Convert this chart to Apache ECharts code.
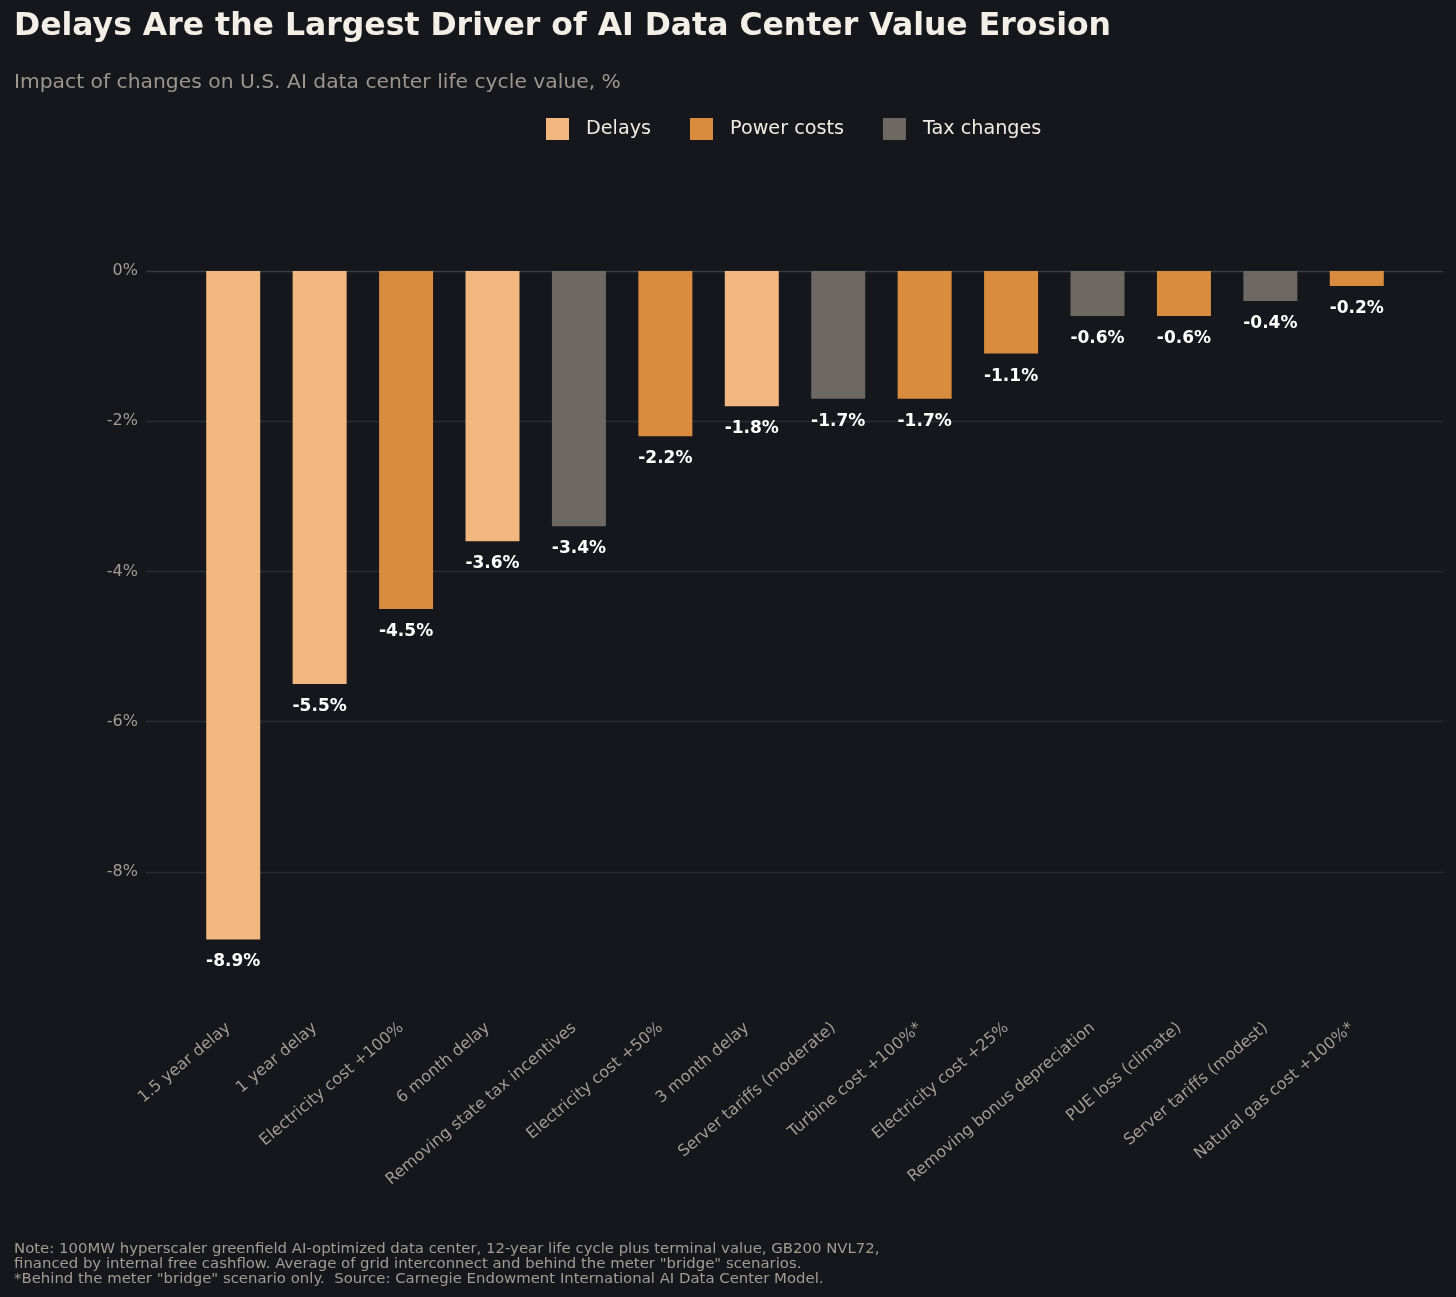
<!DOCTYPE html>
<html>
<head>
<meta charset="utf-8">
<script src="https://cdn.jsdelivr.net/npm/echarts@6/dist/echarts.min.js"></script>
<style>
  html, body { margin: 0; padding: 0; background: #15171c; }
  #container { width: 1456px; height: 1297px; }
</style>
</head>
<body>
<div id="container"></div>
<script>
var myChart = echarts.init(document.getElementById('container'));

var categories = ['1.5 year delay', '1 year delay', 'Electricity cost +100%', '6 month delay',
  'Removing state tax incentives', 'Electricity cost +50%', '3 month delay', 'Server tariffs (moderate)',
  'Turbine cost +100%*', 'Electricity cost +25%', 'Removing bonus depreciation', 'PUE loss (climate)',
  'Server tariffs (modest)', 'Natural gas cost +100%*'];
var values = [-8.9, -5.5, -4.5, -3.6, -3.4, -2.2, -1.8, -1.7, -1.7, -1.1, -0.6, -0.6, -0.4, -0.2];
var groups = ['Delays', 'Delays', 'Power costs', 'Delays', 'Tax changes', 'Power costs', 'Delays',
  'Tax changes', 'Power costs', 'Power costs', 'Tax changes', 'Power costs', 'Tax changes', 'Power costs'];
var groupNames = ['Delays', 'Power costs', 'Tax changes'];
var groupColors = ['#f2b77e', '#d98b3e', '#6d6962'];
var yTicks = [-10, -8, -6, -4, -2, 0];

var font = 'DejaVu Sans';

var series = groupNames.map(function(g, k) {
  return {
    name: g,
    type: 'bar',
    xAxisIndex: 1,
    yAxisIndex: 1,
    stack: 'all',
    barWidth: 54,
    itemStyle: { color: groupColors[k] },
    label: {
      show: true,
      position: 'bottom',
      distance: 14,
      color: '#ffffff',
      fontFamily: font,
      fontWeight: 'bold',
      fontSize: 17,
      formatter: function(p) { return p.value.toFixed(1) + '%'; }
    },
    data: values.map(function(v, i) { return groups[i] === g ? v : null; })
  };
});

var option = {
  backgroundColor: '#15171c',
  textStyle: { fontFamily: font },
  title: [
    {
      text: 'Delays Are the Largest Driver of AI Data Center Value Erosion',
      left: 9, top: 6,
      textStyle: { color: '#f4efe6', fontSize: 31.5, fontWeight: 'bold', fontFamily: font }
    },
    {
      text: 'Impact of changes on U.S. AI data center life cycle value, %',
      left: 9, top: 68,
      textStyle: { color: '#9c968e', fontSize: 20.3, fontWeight: 'normal', fontFamily: font }
    },
    {
      text: 'Note: 100MW hyperscaler greenfield AI-optimized data center, 12-year life cycle plus terminal value, GB200 NVL72,\n' +
            'financed by internal free cashflow. Average of grid interconnect and behind the meter "bridge" scenarios.\n' +
            '*Behind the meter "bridge" scenario only.  Source: Carnegie Endowment International AI Data Center Model.',
      left: 9, top: 1237,
      textStyle: { color: '#a29c94', fontSize: 14.9, fontWeight: 'normal', lineHeight: 15, fontFamily: font }
    }
  ],
  legend: {
    left: 541, top: 113,
    itemWidth: 23, itemHeight: 22, itemGap: 39,
    icon: 'rect',
    textStyle: { color: '#f0ebe2', fontSize: 19.2, fontFamily: font, padding: [0, 0, 0, 12] },
    data: groupNames
  },
  grid: [
    { left: 146, right: 13, top: 271, bottom: 275 },
    { left: 190, right: 56, top: 271, bottom: 275 }
  ],
  xAxis: [
    { type: 'value', gridIndex: 0, show: false, min: 0, max: 1 },
    {
      type: 'category', gridIndex: 1, data: categories,
      axisLine: { show: false }, axisTick: { show: false },
      axisLabel: { rotate: 40, color: '#a29c94', fontSize: 16, fontFamily: font, margin: 0, interval: 0,
        padding: [0, 6, 0, 0] }
    }
  ],
  yAxis: [
    {
      type: 'value', gridIndex: 0, min: yTicks[0], max: yTicks[yTicks.length - 1], interval: 2,
      axisLine: { show: false }, axisTick: { show: false },
      axisLabel: {
        color: '#a29c94', fontSize: 16, fontFamily: font, margin: 8,
        showMinLabel: false,
        formatter: function(v) { return v + '%'; }
      },
      splitLine: {
        show: true,
        lineStyle: { color: ['rgba(0,0,0,0)', '#2a2d32', '#2a2d32', '#2a2d32', '#2a2d32', '#3a3c41'], width: 1.3 }
      }
    },
    {
      type: 'value', gridIndex: 1, min: yTicks[0], max: yTicks[yTicks.length - 1], show: false,
      splitLine: { show: false }
    }
  ],
  series: series
};

myChart.setOption(option);
</script>
</body>
</html>
